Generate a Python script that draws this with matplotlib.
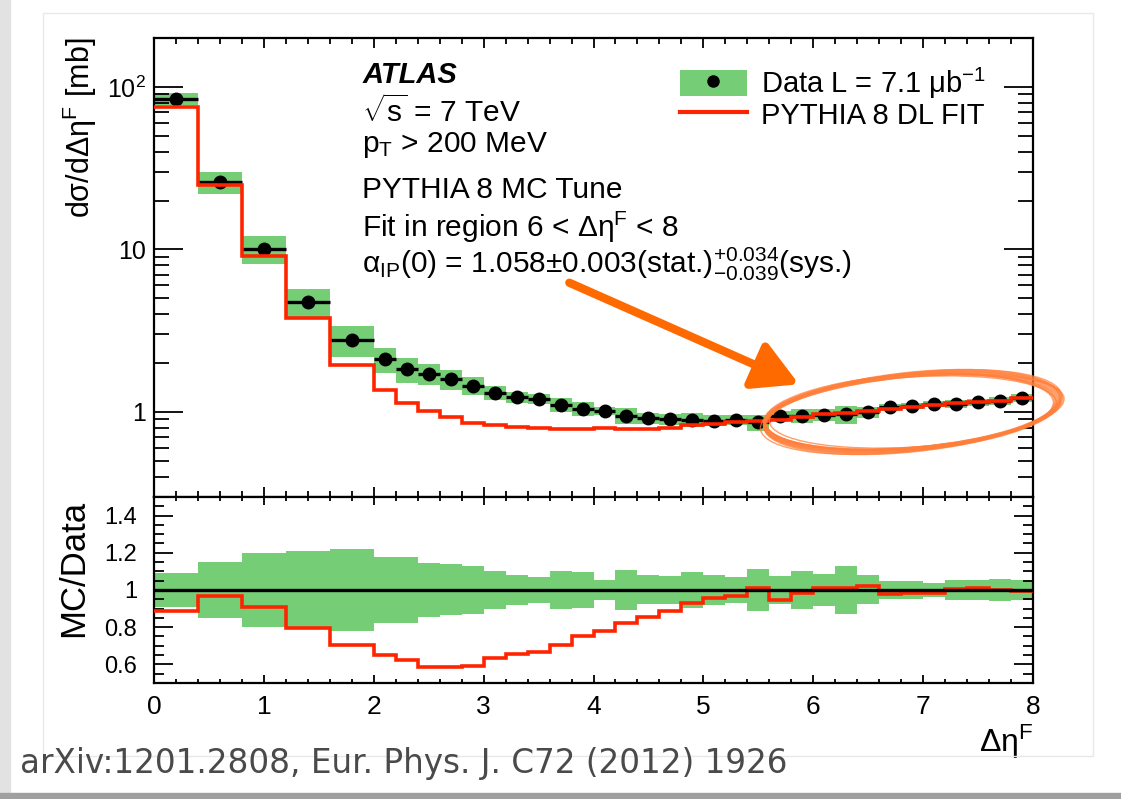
import numpy as np
import matplotlib
matplotlib.use("Agg")
import matplotlib.pyplot as plt
from matplotlib.patches import Patch, Ellipse, Rectangle
from matplotlib.lines import Line2D
from matplotlib.ticker import (FixedLocator, FixedFormatter, MultipleLocator,
                               LogLocator, NullFormatter)

plt.rcParams['font.family'] = ['Liberation Sans', 'DejaVu Sans']
plt.rcParams['mathtext.fontset'] = 'custom'
plt.rcParams['mathtext.rm'] = 'Liberation Sans'
plt.rcParams['mathtext.it'] = 'Liberation Sans:italic'
plt.rcParams['mathtext.bf'] = 'Liberation Sans:bold'

# forward rapidity gap binning
edges = np.array([0.0, 0.4, 0.8, 1.2, 1.6,
                  2.0, 2.2, 2.4, 2.6, 2.8, 3.0, 3.2, 3.4, 3.6, 3.8,
                  4.0, 4.2, 4.4, 4.6, 4.8, 5.0, 5.2, 5.4, 5.6, 5.8,
                  6.0, 6.2, 6.4, 6.6, 6.8, 7.0, 7.2, 7.4, 7.6, 7.8, 8.0])

# dsigma/d(delta eta) [mb]
data = np.array([84.5, 25.9, 10.07, 4.75, 2.77,
                 2.11, 1.83, 1.72, 1.59, 1.45, 1.31, 1.23, 1.20, 1.11, 1.05,
                 1.02, 0.95, 0.92, 0.905, 0.893, 0.885, 0.898, 0.865, 0.95, 0.95,
                 0.958, 0.972, 0.995, 1.07, 1.09, 1.12, 1.12, 1.145, 1.17, 1.22])

# total relative uncertainty (green band)
rel_err = np.array([0.09, 0.153, 0.197, 0.21, 0.218,
                    0.178, 0.178, 0.143, 0.137, 0.128, 0.10, 0.083, 0.07, 0.10, 0.097,
                    0.055, 0.108, 0.078, 0.077, 0.098, 0.08, 0.07, 0.115, 0.074, 0.10,
                    0.084, 0.127, 0.078, 0.048, 0.048, 0.04, 0.052, 0.055, 0.06, 0.054])

# PYTHIA 8 DL fit divided by data
mc_over_data = np.array([0.888, 0.966, 0.906, 0.798, 0.705,
                         0.65, 0.622, 0.587, 0.587, 0.591, 0.636, 0.658, 0.668, 0.705, 0.753,
                         0.777, 0.825, 0.856, 0.885, 0.928, 0.957, 0.969, 1.011, 0.946, 0.982,
                         1.011, 1.011, 1.02, 0.978, 0.982, 0.982, 1.007, 1.013, 1.0, 0.996])

mc = data * mc_over_data
centers = 0.5 * (edges[1:] + edges[:-1])
widths = np.diff(edges)

GREEN = '#75cd75'
RED = '#ff2400'
ORANGE = '#ff6a00'

fig = plt.figure(figsize=(11.21, 7.99), dpi=100)
fig.patch.set_facecolor('white')

# slide frame around the plot
fig.patches.append(Rectangle((0, 0), 10 / 1121, 1, transform=fig.transFigure,
                             color='#e2e2e2', zorder=0))
fig.patches.append(Rectangle((43 / 1121, 43 / 799), 1050 / 1121, 743 / 799,
                             transform=fig.transFigure, fill=False,
                             ec='#e8e8e8', lw=1, zorder=0))
fig.patches.append(Rectangle((0, 0), 1, 6 / 799, transform=fig.transFigure,
                             color='#a0a0a0', zorder=0))

ax1 = fig.add_axes([0.1374, 0.378, 0.7841, 0.5745])
ax2 = fig.add_axes([0.1374, 0.1452, 0.7841, 0.2328], sharex=ax1)

# upper pad: cross section
ax1.bar(edges[:-1], 2 * data * rel_err, width=widths, bottom=data * (1 - rel_err),
        align='edge', color=GREEN, lw=0, zorder=1)
ax1.errorbar(centers, data, xerr=widths / 2, fmt='o', color='k', ms=9,
             elinewidth=2.4, capsize=0, zorder=3)
ax1.stairs(mc, edges, baseline=None, color=RED, lw=2.6, zorder=4)

ax1.set_yscale('log')
ax1.set_xlim(0, 8)
ax1.set_ylim(0.3, 200)
ax1.yaxis.set_major_locator(FixedLocator([1, 10, 100]))
ax1.yaxis.set_major_formatter(FixedFormatter(['1', '10', '10$^{2}$']))
ax1.yaxis.set_minor_locator(LogLocator(base=10, subs=np.arange(2, 10)))
ax1.yaxis.set_minor_formatter(NullFormatter())

# lower pad: ratio
ax2.bar(edges[:-1], 2 * rel_err, width=widths, bottom=1 - rel_err,
        align='edge', color=GREEN, lw=0, zorder=1)
ax2.stairs(mc / data, edges, baseline=None, color=RED, lw=2.6, zorder=3)
ax2.axhline(1.0, color='k', lw=2.4, zorder=4)
ax2.set_ylim(0.5, 1.5)
ax2.yaxis.set_major_locator(FixedLocator([0.6, 0.8, 1.0, 1.2, 1.4]))
ax2.yaxis.set_major_formatter(FixedFormatter(['0.6', '0.8', '1', '1.2', '1.4']))
ax2.yaxis.set_minor_locator(MultipleLocator(0.05))

for ax in (ax1, ax2):
    ax.xaxis.set_major_locator(MultipleLocator(1))
    ax.xaxis.set_minor_locator(MultipleLocator(0.2))
    ax.tick_params(which='both', direction='in', top=True, right=True,
                   width=1.3, color='k')
    for s in ax.spines.values():
        s.set_linewidth(1.6)

ax1.tick_params(axis='y', which='major', length=21, labelsize=18, pad=6)
ax1.tick_params(axis='y', which='minor', length=11)
ax1.tick_params(axis='x', which='major', length=7, labelbottom=False)
ax1.tick_params(axis='x', which='minor', length=4)
ax2.tick_params(axis='y', which='major', length=14, labelsize=17, pad=12)
ax2.tick_params(axis='y', which='minor', length=7)
ax2.tick_params(axis='x', which='major', length=6, labelsize=19, pad=9)
ax2.tick_params(axis='x', which='minor', length=3)

ax1.text(-0.084, 1.0, r'dσ/dΔη$^{\mathrm{F}}$ [mb]', rotation=90,
         ha='center', va='top', fontsize=22, transform=ax1.transAxes)
ax2.text(-0.091, 0.985, 'MC/Data', rotation=90, ha='center', va='top',
         fontsize=25, transform=ax2.transAxes)
ax2.text(1.0, -0.37, r'Δη$^{\mathrm{F}}$', ha='right', va='baseline',
         fontsize=23, transform=ax2.transAxes)

# labels
x0 = 0.237
ax1.text(x0, 0.902, 'ATLAS', fontsize=21, fontweight='bold', fontstyle='italic',
         transform=ax1.transAxes, va='baseline')
lines = [(0.817, r'$\sqrt{\mathrm{s}}$ = 7 TeV'),
         (0.752, r'p$_{\mathrm{T}}$ > 200 MeV'),
         (0.651, 'PYTHIA 8 MC Tune'),
         (0.566, r'Fit in region 6 < Δη$^{\mathrm{F}}$ < 8'),
         (0.488, r'α$_{\mathrm{IP}}$(0) = 1.058±0.003(stat.)$^{+0.034}_{-0.039}$(sys.)')]
for y, s in lines:
    ax1.text(x0, y, s, fontsize=21.5, transform=ax1.transAxes, va='baseline')

h_data = (Patch(facecolor=GREEN, edgecolor='none'),
          Line2D([], [], marker='o', color='k', ls='none', ms=8))
h_mc = Line2D([], [], color=RED, lw=3)
ax1.legend([h_data, h_mc], [r'Data L = 7.1 μb$^{-1}$', 'PYTHIA 8 DL FIT'],
           loc='upper right', bbox_to_anchor=(0.947, 0.94), frameon=False,
           fontsize=21, handlelength=2.3, handleheight=1.0, handletextpad=0.5,
           labelspacing=0.0, borderaxespad=0, borderpad=0)

# highlight of the fit region
ax1.annotate('', xy=(5.87, 1.48), xytext=(3.78, 6.24),
             arrowprops=dict(arrowstyle='-|>,head_length=0.9,head_width=0.5',
                             mutation_scale=30, lw=6, color=ORANGE,
                             shrinkA=0, shrinkB=0), zorder=6)
for dx, dw, dh, da, lw in [(0.0, 0.0, 0.0, 0.0, 3.5), (0.01, 0.04, 0.02, 0.6, 1.8),
                           (-0.02, -0.03, -0.02, -0.5, 1.8), (0.0, 0.02, 0.05, 1.0, 1.4),
                           (-0.03, -0.05, 0.01, -1.0, 1.4), (0.02, 0.06, -0.03, 0.3, 1.2),
                           (-0.01, 0.08, 0.04, 1.5, 1.0), (0.01, -0.07, -0.04, -1.3, 1.0)]:
    fig.add_artist(Ellipse((9.12 + dx, 3.87), 2.95 + dw, 0.74 + dh, angle=5 + da,
                           fill=False, ec='#ff7f3a', lw=lw, alpha=0.75,
                           transform=fig.dpi_scale_trans, zorder=7))

fig.text(20 / 1121, 26 / 799, 'arXiv:1201.2808, Eur. Phys. J. C72 (2012) 1926',
         family='DejaVu Sans', fontsize=23.5, color='#4a4a4a', va='baseline')

fig.savefig('out.png', dpi=100)
